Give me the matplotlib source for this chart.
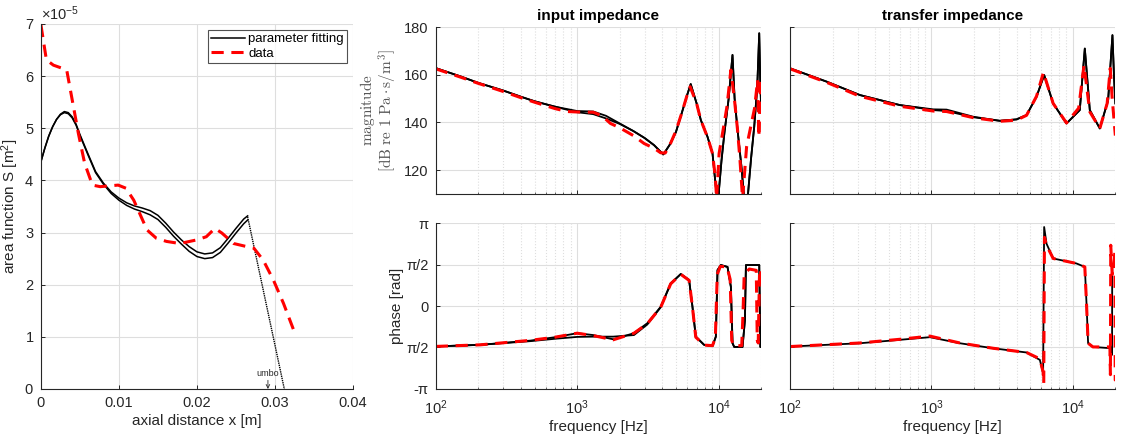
import numpy as np
import matplotlib
matplotlib.use('Agg')
import matplotlib.pyplot as plt
from matplotlib.ticker import LogLocator, NullFormatter, MultipleLocator

plt.rcParams['font.family'] = ['Liberation Sans', 'DejaVu Sans']
plt.rcParams['mathtext.fontset'] = 'custom'
plt.rcParams['mathtext.rm'] = 'Liberation Sans'
plt.rcParams['mathtext.it'] = 'Liberation Sans:italic'

TXT = '#262626'
GRID = '#dedede'
RED = '#ff0000'

# ---- area function (S in 1e-5 m^2) ----
x_fit = [0, 0.0005, 0.001, 0.0015, 0.002, 0.0025, 0.003, 0.0035, 0.004, 0.0045,
         0.005, 0.006, 0.007, 0.008, 0.009, 0.010, 0.011, 0.012, 0.013, 0.014,
         0.015, 0.016, 0.017, 0.018, 0.019, 0.020, 0.021, 0.022, 0.023, 0.024,
         0.025, 0.026, 0.0265]
s_fit_a = [4.36, 4.62, 4.85, 5.03, 5.17, 5.27, 5.32, 5.30, 5.22, 5.08,
           4.88, 4.52, 4.17, 3.95, 3.78, 3.66, 3.57, 3.51, 3.47, 3.42,
           3.33, 3.18, 3.01, 2.86, 2.73, 2.63, 2.59, 2.61, 2.71, 2.89,
           3.08, 3.26, 3.32]
s_fit_b = [4.36, 4.62, 4.85, 5.03, 5.17, 5.26, 5.30, 5.28, 5.20, 5.06,
           4.86, 4.50, 4.15, 3.93, 3.75, 3.62, 3.52, 3.45, 3.40, 3.34,
           3.25, 3.10, 2.93, 2.78, 2.64, 2.54, 2.50, 2.52, 2.62, 2.80,
           2.99, 3.17, 3.24]
x_umbo = [0.0265, 0.0312]
s_umbo = [3.30, 0.0]
x_data = [0, 0.0007, 0.0016, 0.0033, 0.0048, 0.0056, 0.0066, 0.0076, 0.0099, 0.0109,
          0.0119, 0.0136, 0.0148, 0.0161, 0.0178, 0.020, 0.0212, 0.0223, 0.0232, 0.0247,
          0.0264, 0.0273, 0.0285, 0.0298, 0.0311, 0.0324]
s_data = [6.98, 6.31, 6.21, 6.12, 4.90, 4.33, 3.91, 3.88, 3.91, 3.85,
          3.62, 3.05, 2.89, 2.83, 2.79, 2.86, 2.92, 3.08, 2.99, 2.79,
          2.73, 2.70, 2.47, 2.09, 1.64, 1.13]
x_ticks_left = [0, 0.01, 0.02, 0.03, 0.04]
x_labels_left = ['0', '0.01', '0.02', '0.03', '0.04']

# ---- input impedance ----
f_in_fit = [100, 150, 200, 300, 400, 500, 700, 1000, 1300, 1600, 2000, 2500, 3000,
            3500, 4070, 4500, 5000, 5500, 6000, 6360, 7000, 7500, 8360, 9070,
            9570, 9800, 9950, 10500, 11000, 11800, 12560, 13000, 13640, 14500,
            15200, 16060, 17000, 17890, 18800, 19410, 19700, 20000]
mag_in_fit_a = [162.8, 159.3, 156.6, 153.4, 150.8, 148.9, 146.6, 144.8, 144.6, 142.8,
                139.6, 136.4, 133.5, 130.5, 126.6, 130.5, 136.0, 144.0, 151.5, 156.1,
                148.0, 141.0, 134.0, 127.0, 113.0, 108.0, 108.0, 124.0, 135.4, 150.0,
                168.3, 150.0, 136.8, 122.0, 108.0, 108.0, 125.0, 138.2, 155.0, 177.4,
                160.0, 147.0]
mag_in_fit_b = [162.8, 159.3, 156.6, 153.4, 150.8, 148.9, 146.6, 144.3, 143.5, 141.7,
                139.4, 136.4, 133.5, 130.5, 126.6, 130.5, 136.0, 144.0, 151.5, 156.1,
                148.0, 141.0, 134.0, 127.0, 113.0, 108.0, 108.0, 124.0, 135.4, 150.0,
                168.3, 150.0, 136.8, 122.0, 108.0, 108.0, 125.0, 138.2, 155.0, 177.4,
                160.0, 147.0]
f_in_dat = [100, 150, 200, 300, 400, 500, 700, 850, 1000, 1300, 1500, 1720, 2000, 2500,
            2975, 3500, 3895, 4200, 4600, 5000, 5500, 6000, 6300, 7000, 7500, 8400,
            9070, 9500, 9700, 10100, 11000, 11500, 12230, 13000, 13640, 14200, 14800,
            15800, 16900, 18000, 18900, 19300, 19900, 20000]
mag_in_dat = [162.5, 159.0, 156.4, 153.0, 150.4, 148.5, 145.8, 144.6, 144.4, 144.3,
              142.8, 139.6, 137.8, 134.5, 131.2, 129.2, 127.3, 127.2, 131.5, 136.5,
              144.0, 151.5, 155.0, 148.0, 141.0, 133.5, 127.0, 117.0, 108.0, 127.0,
              140.0, 147.0, 162.0, 149.0, 136.8, 124.0, 108.0, 129.8, 138.2, 146.0,
              157.8, 134.0, 158.6, 147.0]

f_in_ph_fit = [100, 206, 468, 700, 1000, 1300, 1800, 2523, 3137, 3900, 4591, 5408,
               6196, 6544, 6906, 7910, 9067, 9575, 9842, 10390, 11580, 12230, 12570,
               12920, 14790, 15380, 15630, 19420, 19760, 20000]
ph_in_fit_a = [-1.53, -1.47, -1.31, -1.18, -1.03, -1.10, -1.26, -1.03, -0.65, -0.03,
               0.86, 1.21, 0.98, -0.03, -1.16, -1.47, -1.52, -1.16, 1.36, 1.55,
               1.48, 0.73, -1.41, -1.55, -1.55, -0.53, 1.55, 1.55, -1.55, -1.55]
ph_in_fit_b = [-1.53, -1.47, -1.33, -1.24, -1.17, -1.16, -1.16, -1.10, -0.70, -0.05,
               0.84, 1.21, 0.98, -0.03, -1.16, -1.47, -1.52, -1.16, 1.36, 1.55,
               1.48, 0.73, -1.41, -1.55, -1.55, -0.53, 1.55, 1.55, -1.55, -1.55]
f_in_ph_dat = [100, 206, 468, 700, 1000, 1300, 1800, 2523, 3137, 3900, 4591, 5408,
               6196, 6544, 6906, 7910, 9067, 9500, 9800, 10300, 11500, 12100, 12400,
               12800, 14600, 14900, 15200, 16500, 18500, 18800, 19100, 19500, 19800, 20000]
ph_in_dat = [-1.53, -1.47, -1.30, -1.18, -1.03, -1.12, -1.28, -1.03, -0.67, -0.05,
             0.84, 1.20, 0.97, -0.05, -1.18, -1.48, -1.50, -1.20, 1.20, 1.50,
             1.48, 1.00, -1.30, -1.50, -1.50, -0.30, 1.20, 1.40, 1.35, -1.30,
             -1.40, 1.20, 1.40, 0.80]

# ---- transfer impedance ----
f_tr_fit = [100, 182, 312, 598, 1030, 1280, 1980, 3049, 4000, 4708, 5538, 6270,
            7260, 9023, 11200, 12160, 13190, 15520, 17780, 19070, 19600, 20000]
mag_tr_fit_a = [162.7, 157.1, 151.5, 147.3, 145.5, 145.4, 142.4, 140.7, 141.3, 143.1,
                150.8, 159.9, 148.0, 139.6, 145.2, 171.0, 145.2, 137.5, 149.4, 176.6,
                158.0, 148.0]
mag_tr_fit_b = [162.7, 157.1, 151.5, 147.3, 145.2, 144.8, 142.2, 140.7, 141.3, 143.1,
                150.8, 159.9, 148.0, 139.6, 145.2, 171.0, 145.2, 137.5, 149.4, 176.6,
                158.0, 148.0]
f_tr_dat = [100, 182, 312, 598, 1030, 1280, 1980, 3049, 4000, 4708, 5538, 6200,
            7260, 9023, 11000, 12000, 13190, 15520, 17500, 18400, 19000, 20000]
mag_tr_dat = [162.5, 156.8, 151.0, 146.8, 144.8, 144.6, 142.0, 140.5, 141.0, 143.0,
              151.0, 161.0, 148.0, 139.8, 146.0, 164.0, 144.5, 137.5, 148.0, 162.7,
              150.0, 134.5]

f_tr_ph_fit = [100, 312, 598, 976, 1590, 2734, 4708, 5847, 6166, 6270, 6516, 7262,
               10620, 12160, 12500, 12830, 13880, 18760, 18950, 19000, 19300]
ph_tr_fit = [-1.535, -1.41, -1.28, -1.18, -1.41, -1.60, -1.76, -2.04, -2.54, 2.99,
             2.36, 1.80, 1.61, 1.48, 0.10, -1.41, -1.55, -1.60, -1.85, 1.55, 1.50]
f_tr_ph_dat = [100, 312, 598, 976, 1590, 2734, 4708, 5847, 6166, 6230, 6300, 6516,
               7262, 10620, 12160, 12500, 12830, 13880, 18300, 18450, 18550, 19000,
               19700, 19850, 19950, 20000]
ph_tr_dat = [-1.535, -1.40, -1.26, -1.14, -1.40, -1.60, -1.76, -2.00, -2.50, -2.92,
             2.60, 2.30, 1.80, 1.61, 1.48, 0.10, -1.41, -1.55, -1.55, -2.60,
             2.30, 1.20, 1.80, 2.10, -2.80, -2.80]

ph_ticks = [-np.pi, -np.pi / 2, 0, np.pi / 2, np.pi]
ph_labels = ['-π', 'π/2', '0', 'π/2', 'π']

TICK_FS = 10.5
LAB_FS = 11

fig = plt.figure(figsize=(11.28, 4.44), dpi=100)


def style(ax):
    ax.tick_params(direction='in', colors=TXT, labelsize=TICK_FS, length=3, width=0.7)
    ax.tick_params(axis='y', pad=5)
    ax.tick_params(which='minor', direction='in', length=1.8, width=0.5, colors=TXT)
    for s in ['top', 'right']:
        ax.spines[s].set_visible(False)
    for s in ['left', 'bottom']:
        ax.spines[s].set_color(TXT)
        ax.spines[s].set_linewidth(0.8)
    ax.grid(True, which='major', color=GRID, lw=0.8)
    ax.set_axisbelow(True)


def log_axis(ax):
    ax.set_xscale('log')
    ax.set_xlim(100, 20000)
    ax.xaxis.set_major_locator(LogLocator(base=10, numticks=5))
    ax.xaxis.set_minor_locator(LogLocator(base=10, subs=np.arange(2, 10), numticks=20))
    ax.xaxis.set_minor_formatter(NullFormatter())
    ax.grid(True, which='minor', axis='x', color=GRID, lw=0.8, ls=':')
    style(ax)
    ax.tick_params(axis='x', which='major', pad=7)


# left panel
ax0 = fig.add_axes([0.0363, 0.1239, 0.2766, 0.8221])
style(ax0)
ax0.plot(x_fit, np.array(s_fit_a) * 1e-5, color='k', lw=1.1, label='parameter fitting')
ax0.plot(x_fit, np.array(s_fit_b) * 1e-5, color='k', lw=1.1)
ax0.plot(x_umbo, np.array(s_umbo) * 1e-5, color='k', lw=1.0, ls=(0, (1, 0.6)))
ax0.plot(x_data, np.array(s_data) * 1e-5, color=RED, lw=2.2, ls=(0, (4, 2.5)), label='data')
ax0.set_xlim(0, 0.04)
ax0.set_ylim(0, 7e-5)
ax0.set_xticks(x_ticks_left)
ax0.set_xticklabels(x_labels_left)
ax0.tick_params(axis='x', pad=5)
ax0.yaxis.set_major_locator(MultipleLocator(1e-5))
ax0.ticklabel_format(axis='y', style='sci', scilimits=(0, 0), useMathText=True)
ax0.yaxis.get_offset_text().set_fontsize(TICK_FS)
ax0.yaxis.get_offset_text().set_color(TXT)
ax0.set_xlabel('axial distance x [m]', fontsize=LAB_FS, color=TXT, labelpad=3)
ax0.set_ylabel('area function S [m$^2$]', fontsize=LAB_FS, color=TXT, labelpad=2)
ax0.annotate('umbo', xy=(0.0291, 0), xytext=(0.0291, 0.22e-5), fontsize=6.5, color=TXT,
             ha='center', va='bottom',
             arrowprops=dict(arrowstyle='->', lw=0.6, color=TXT, shrinkA=0, shrinkB=0))
leg = ax0.legend(loc='upper right', fontsize=9.5, frameon=True, fancybox=False,
                 edgecolor=TXT, borderpad=0.25, handlelength=2.6, labelspacing=0.15,
                 handletextpad=0.2, borderaxespad=0.45)
leg.get_frame().set_linewidth(0.8)

# input impedance magnitude
ax1 = fig.add_axes([0.3863, 0.563, 0.2884, 0.376])
ax1.plot(f_in_fit, mag_in_fit_a, color='k', lw=1.3)
ax1.plot(f_in_fit, mag_in_fit_b, color='k', lw=1.3)
ax1.plot(f_in_dat, mag_in_dat, color=RED, lw=2.2, ls=(0, (4, 2.5)))
log_axis(ax1)
ax1.set_ylim(110, 180)
ax1.yaxis.set_major_locator(MultipleLocator(20))
ax1.xaxis.set_major_formatter(NullFormatter())
ax1.set_title('input impedance', fontsize=LAB_FS, fontweight='bold', color='k', pad=5)
ax1.set_ylabel(r'$\mathrm{magnitude}$' + '\n' + r'$[\mathrm{dB\ re\ 1\ Pa}\cdot\mathrm{s/m}^3]$',
               fontsize=11, color='#555555', math_fontfamily='cm', linespacing=1.0,
               labelpad=4)

# transfer impedance magnitude
ax2 = fig.add_axes([0.7004, 0.563, 0.2884, 0.376])
ax2.plot(f_tr_fit, mag_tr_fit_a, color='k', lw=1.3)
ax2.plot(f_tr_fit, mag_tr_fit_b, color='k', lw=1.3)
ax2.plot(f_tr_dat, mag_tr_dat, color=RED, lw=2.2, ls=(0, (4, 2.5)))
log_axis(ax2)
ax2.set_ylim(110, 180)
ax2.yaxis.set_major_locator(MultipleLocator(20))
ax2.xaxis.set_major_formatter(NullFormatter())
ax2.yaxis.set_major_formatter(NullFormatter())
ax2.set_title('transfer impedance', fontsize=LAB_FS, fontweight='bold', color='k', pad=5)

# input impedance phase
ax3 = fig.add_axes([0.3863, 0.1239, 0.2884, 0.3738])
ax3.plot(f_in_ph_fit, ph_in_fit_a, color='k', lw=1.3)
ax3.plot(f_in_ph_fit, ph_in_fit_b, color='k', lw=1.3)
ax3.plot(f_in_ph_dat, ph_in_dat, color=RED, lw=2.2, ls=(0, (4, 2.5)))
log_axis(ax3)
ax3.set_ylim(-np.pi, np.pi)
ax3.set_yticks(ph_ticks)
ax3.set_yticklabels(ph_labels)
ax3.set_xlabel('frequency [Hz]', fontsize=LAB_FS, color=TXT, labelpad=2)
ax3.set_ylabel('phase [rad]', fontsize=LAB_FS, color=TXT, labelpad=2)

# transfer impedance phase
ax4 = fig.add_axes([0.7004, 0.1239, 0.2884, 0.3738])
ax4.plot(f_tr_ph_fit, ph_tr_fit, color='k', lw=1.3)
ax4.plot(f_tr_ph_dat, ph_tr_dat, color=RED, lw=2.2, ls=(0, (4, 2.5)))
log_axis(ax4)
ax4.set_ylim(-np.pi, np.pi)
ax4.set_yticks(ph_ticks)
ax4.yaxis.set_major_formatter(NullFormatter())
ax4.set_xlabel('frequency [Hz]', fontsize=LAB_FS, color=TXT, labelpad=2)

fig.savefig('out.png', dpi=100)
